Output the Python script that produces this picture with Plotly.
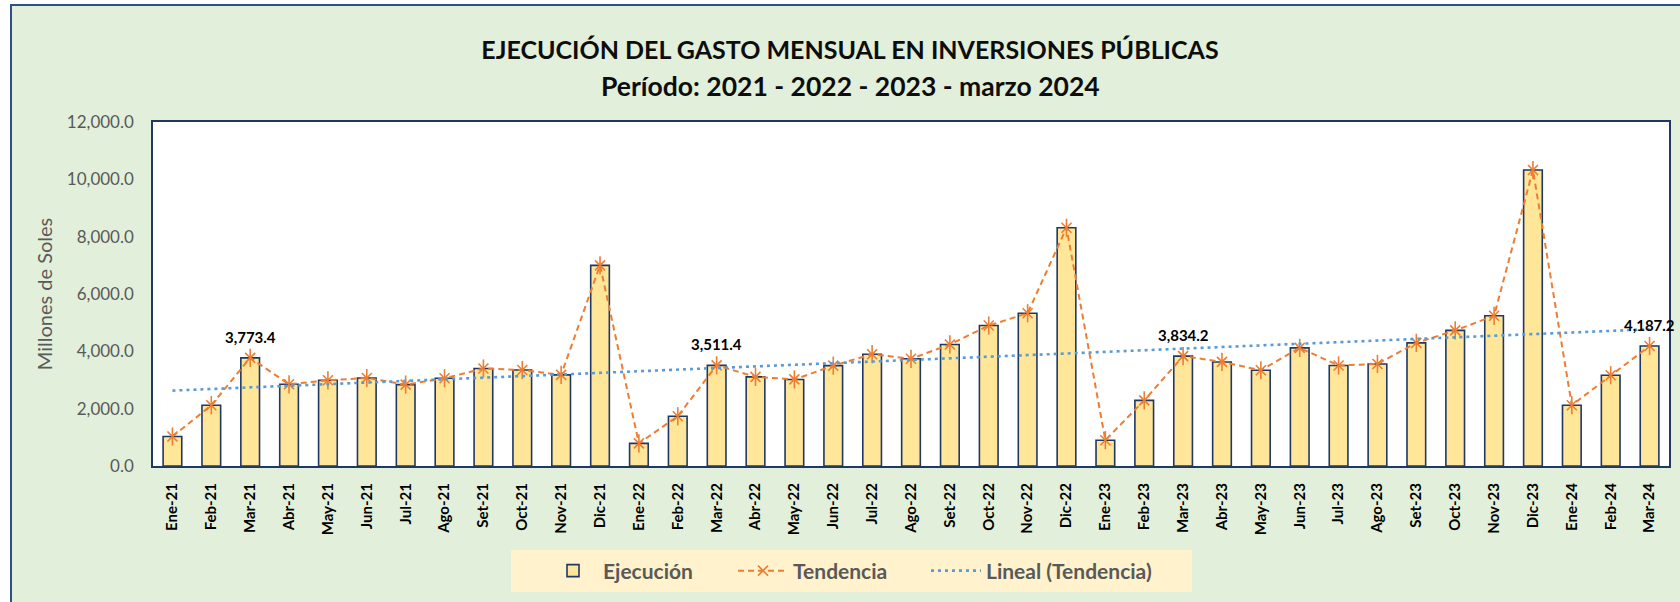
import plotly.graph_objects as go

# ---------------- data ----------------
categories = [
    "Ene-21", "Feb-21", "Mar-21", "Abr-21", "May-21", "Jun-21", "Jul-21", "Ago-21", "Set-21", "Oct-21", "Nov-21", "Dic-21",
    "Ene-22", "Feb-22", "Mar-22", "Abr-22", "May-22", "Jun-22", "Jul-22", "Ago-22", "Set-22", "Oct-22", "Nov-22", "Dic-22",
    "Ene-23", "Feb-23", "Mar-23", "Abr-23", "May-23", "Jun-23", "Jul-23", "Ago-23", "Set-23", "Oct-23", "Nov-23", "Dic-23",
    "Ene-24", "Feb-24", "Mar-24",
]
ejecucion = [
    1030, 2120, 3773.4, 2850, 2990, 3070, 2840, 3060, 3400, 3350, 3180, 7000,
    790, 1735, 3511.4, 3110, 3020, 3500, 3900, 3740, 4240, 4900, 5330, 8310,
    900, 2290, 3834.2, 3630, 3340, 4120, 3505, 3560, 4295, 4730, 5240, 10325,
    2120, 3167, 4187.2,
]
tendencia = list(ejecucion)
# linear trend line (at its two ends)
trend_x = ["Ene-21", "Mar-24"]
trend_y = [2630, 4770]
# labelled points
label_cats = ["Mar-21", "Mar-22", "Mar-23", "Mar-24"]
y_ticks = [0, 2000, 4000, 6000, 8000, 10000, 12000]

# ---------------- style ----------------
W, H = 1680, 602
PL, PR, PT, PB = 153, 1669, 122, 466
GREEN = "#E2EFDA"
NAVY = "#1F3864"
FRAME = "#2F4F8A"
ORANGE = "#ED7D31"
BLUE = "#5B9BD5"
BAR = "#FFE699"
GRAY = "#595959"
FONT = "Lato"


def fx(x):
    return (x - PL) / (PR - PL)


def fy(y):
    return (PB - y) / (PB - PT)


fig = go.Figure()

fig.add_trace(go.Bar(
    x=categories, y=ejecucion, name="Ejecución", legendwidth=125,
    marker=dict(color=BAR, line=dict(color=NAVY, width=1.6)),
))
fig.add_trace(go.Scatter(
    x=categories, y=tendencia, name="Tendencia", mode="lines+markers", legendwidth=128,
    line=dict(color=ORANGE, width=2, dash="6px,4px"),
    marker=dict(symbol="x-thin-open", size=10, color=ORANGE, line=dict(color=ORANGE, width=1.6)),
))
fig.add_trace(go.Scatter(
    x=categories, y=tendencia, mode="markers", showlegend=False, hoverinfo="skip",
    marker=dict(symbol="line-ns-open", size=13, color=ORANGE, line=dict(color=ORANGE, width=1.6)),
))
fig.add_trace(go.Scatter(
    x=trend_x, y=trend_y, name="Lineal (Tendencia)", mode="lines", legendwidth=200,
    line=dict(color=BLUE, width=2.6, dash="3px,4px"),
))

# data labels
for c in label_cats:
    v = ejecucion[categories.index(c)]
    fig.add_annotation(
        x=c, y=v, text=f"{v:,.1f}", showarrow=False, yanchor="middle", yshift=21,
        font=dict(family=FONT, size=15, color="#000000", weight="bold"),
    )

# subtitle (second title line)
fig.add_annotation(
    xref="paper", yref="paper", x=fx(850), y=fy(86), xanchor="center", yanchor="middle",
    text="Período: 2021 - 2022 - 2023 - marzo 2024", showarrow=False,
    font=dict(family=FONT, size=26.5, color="#0D0D0D", weight="bold"),
)

shapes = [
    # white page outside the chart frame
    dict(type="rect", xref="paper", yref="paper", x0=fx(0), x1=fx(10), y0=fy(H), y1=fy(0),
         fillcolor="white", line=dict(width=0), layer="below"),
    dict(type="rect", xref="paper", yref="paper", x0=fx(0), x1=fx(W), y0=fy(5), y1=fy(0),
         fillcolor="white", line=dict(width=0), layer="below"),
    # frame lines
    dict(type="line", xref="paper", yref="paper", x0=fx(10), x1=fx(W), y0=fy(5), y1=fy(5),
         line=dict(color=FRAME, width=2)),
    dict(type="line", xref="paper", yref="paper", x0=fx(11), x1=fx(11), y0=fy(5), y1=fy(H),
         line=dict(color=FRAME, width=2)),
    # legend box
    dict(type="rect", xref="paper", yref="paper", x0=fx(511), x1=fx(1192), y0=fy(592), y1=fy(550),
         fillcolor="#FFF2CC", line=dict(width=0), layer="below"),
]

fig.update_layout(
    width=W, height=H,
    margin=dict(l=PL, r=W - PR, t=PT, b=H - PB, autoexpand=False),
    paper_bgcolor=GREEN, plot_bgcolor="white",
    bargap=0.52,
    title=dict(
        text="EJECUCIÓN DEL GASTO MENSUAL EN INVERSIONES PÚBLICAS",
        x=850 / W, xanchor="center", y=1 - 50 / H, yanchor="middle", yref="container",
        font=dict(family=FONT, size=25, color="#0D0D0D", weight="bold"),
    ),
    showlegend=True,
    legend=dict(
        orientation="h", xref="paper", yref="paper", x=fx(543), xanchor="left",
        y=fy(571), yanchor="middle", bgcolor="rgba(0,0,0,0)",
        itemwidth=50,
        font=dict(family=FONT, size=21, color=GRAY, weight="bold"),
        traceorder="normal",
    ),
    xaxis=dict(
        type="category", range=[-0.5, len(categories) - 0.5], tickangle=-90,
        showgrid=False, ticks="",
        showline=True, linecolor=NAVY, linewidth=2, mirror=True,
        tickfont=dict(family=FONT, size=15, color="#000000", weight="bold"),
        ticklabelstandoff=9,
    ),
    yaxis=dict(
        range=[0, 12000], tickvals=y_ticks, tickformat=",.1f", showgrid=False,
        zeroline=False, ticks="",
        showline=True, linecolor=NAVY, linewidth=1.5, mirror=True,
        tickfont=dict(family=FONT, size=17, color=GRAY),
        ticklabelstandoff=14,
        title=dict(text="Millones de Soles", standoff=9,
                   font=dict(family=FONT, size=20, color=GRAY)),
    ),
    shapes=shapes,
    hovermode="closest",
)

fig.write_html("out.html", config={"displayModeBar": False},
               post_script="document.body.style.margin='0';")
